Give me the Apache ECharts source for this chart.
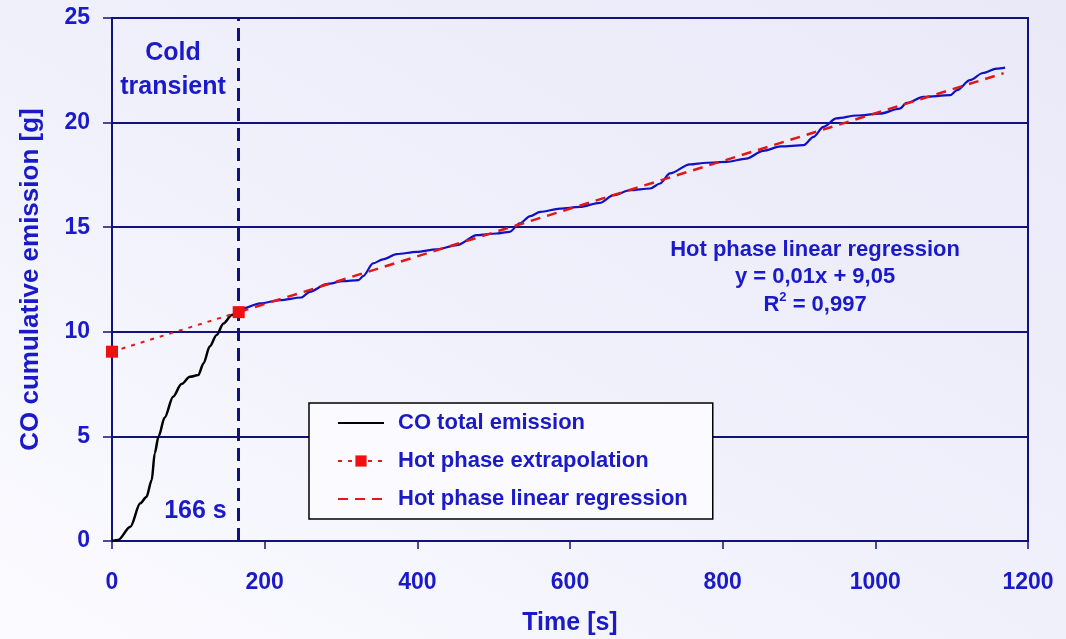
<!DOCTYPE html>
<html>
<head>
<meta charset="utf-8">
<script src="https://cdn.jsdelivr.net/npm/echarts@6/dist/echarts.min.js"></script>
<style>
  html, body { margin: 0; padding: 0; }
  body { width: 1066px; height: 639px; background: linear-gradient(30deg, #fbfbff 0%, #f1f1fc 45%, #e9e9f8 100%); }
  #chart { width: 1066px; height: 639px; }
</style>
</head>
<body>
<div id="chart"></div>
<script>
// Cumulative CO emission during the cold transient (time in s, mass in g)
const coldTime = [0, 8, 24, 37, 45, 52, 56, 61, 69, 80, 91, 102, 113, 120, 128, 137, 146, 157, 166];
const coldCO   = [0, 0.05, 0.68, 1.8, 2.1, 2.9, 4.2, 5.0, 5.9, 6.9, 7.5, 7.85, 7.93, 8.5, 9.3, 9.85, 10.4, 10.8, 10.94];

// Cumulative CO emission during the hot phase
const hotTime = [166, 172, 194, 220, 248, 259, 281, 303, 323, 329, 342, 355, 373, 399, 425, 452, 478, 504, 521, 534,
                 548, 561, 587, 613, 639, 657, 679, 705, 718, 731, 757, 779, 805, 831, 853, 876, 906, 919, 932, 949,
                 976, 1006, 1032, 1041, 1063, 1098, 1107, 1124, 1141, 1159, 1170];
const hotCO   = [10.94, 11.12, 11.36, 11.51, 11.64, 11.91, 12.28, 12.42, 12.47, 12.66, 13.27, 13.46, 13.71, 13.82, 13.94, 14.14, 14.62, 14.70, 14.78, 15.18,
                 15.53, 15.73, 15.89, 15.97, 16.16, 16.53, 16.77, 16.85, 17.09, 17.57, 18.0, 18.08, 18.12, 18.28, 18.65, 18.86, 18.92, 19.32, 19.80, 20.2,
                 20.34, 20.43, 20.67, 20.94, 21.23, 21.31, 21.55, 22.03, 22.37, 22.58, 22.63];

// Hot phase extrapolation back to t = 0 and the fitted regression line
const extrapTime = [0, 166];
const extrapCO   = [9.05, 10.94];
const regTime = [166, 1168];
const regCO   = [10.94, 22.36];

// Axis ticks and annotations
const xTicks = [0, 200, 400, 600, 800, 1000, 1200];
const yTicks = [0, 5, 10, 15, 20, 25];
const coldEnd = 166;
const legendNames = ['CO total emission', 'Hot phase extrapolation', 'Hot phase linear regression'];
const regressionText = ['Hot phase linear regression', 'y = 0,01x + 9,05', 'R{sup|2} = 0,997'];

const FONT = '"Liberation Sans", Arial, sans-serif';
const BLUE_TEXT = '#1a1ac8';
const NAVY = '#12127e';

const pairs = (xs, ys) => xs.map((x, i) => [x, ys[i]]);

const chart = echarts.init(document.getElementById('chart'), null, { renderer: 'canvas' });

const option = {
  backgroundColor: 'transparent',
  animation: false,
  grid: {
    left: 112, right: 38, top: 18, bottom: 98,
    outerBoundsMode: 'none',
    show: true, borderColor: NAVY, borderWidth: 2, backgroundColor: 'transparent'
  },
  xAxis: {
    type: 'value',
    min: xTicks[0], max: xTicks[xTicks.length - 1], interval: xTicks[1] - xTicks[0],
    name: 'Time [s]', nameLocation: 'middle', nameGap: 70,
    nameTextStyle: { fontFamily: FONT, fontWeight: 'bold', fontSize: 25, color: BLUE_TEXT },
    axisLine: { show: true, lineStyle: { color: NAVY, width: 2 } },
    axisTick: { show: true, inside: false, length: 8, lineStyle: { color: NAVY, width: 1.5 } },
    axisLabel: {
      margin: 30, fontFamily: FONT, fontWeight: 'bold', fontSize: 23, color: BLUE_TEXT,
      formatter: v => String(v)
    },
    splitLine: { show: false }
  },
  yAxis: {
    type: 'value',
    min: yTicks[0], max: yTicks[yTicks.length - 1], interval: yTicks[1] - yTicks[0],
    name: 'CO cumulative emission [g]', nameLocation: 'middle', nameGap: 68,
    nameTextStyle: { fontFamily: FONT, fontWeight: 'bold', fontSize: 26, color: BLUE_TEXT },
    axisLine: { show: true, lineStyle: { color: NAVY, width: 2 } },
    axisTick: { show: true, inside: false, length: 9, lineStyle: { color: NAVY, width: 1.5 } },
    axisLabel: {
      margin: 22, fontFamily: FONT, fontWeight: 'bold', fontSize: 23, color: BLUE_TEXT,
      formatter: v => String(v)
    },
    splitLine: { show: true, lineStyle: { color: NAVY, width: 2 } }
  },
  legend: {
    orient: 'vertical',
    left: 309, top: 403,
    data: [
      { name: legendNames[0], itemStyle: { opacity: 0 } },
      { name: legendNames[1] },
      { name: legendNames[2], itemStyle: { opacity: 0 } }
    ],
    backgroundColor: '#fafaff',
    borderColor: '#000000', borderWidth: 1.5, borderRadius: 0,
    padding: [7, 25, 7, 28],
    itemWidth: 46, itemHeight: 14, itemGap: 12,
    selectedMode: false,
    textStyle: {
      fontFamily: FONT, fontWeight: 'bold', fontSize: 22, color: BLUE_TEXT,
      lineHeight: 26, padding: [0, 0, 0, 9]
    }
  },
  series: [
    {
      name: 'CO total emission',
      type: 'line',
      data: pairs(coldTime, coldCO),
      smooth: 0.3, smoothMonotone: 'x',
      symbol: 'none',
      lineStyle: { color: '#000000', width: 2.5 },
      itemStyle: { color: '#000000' },
      z: 3,
      markLine: {
        silent: true, symbol: 'none', animation: false,
        label: { show: false },
        lineStyle: { color: NAVY, width: 3, type: [13, 7] },
        data: [{ xAxis: coldEnd }]
      }
    },
    {
      name: 'hot phase emission',
      type: 'line',
      data: pairs(hotTime, hotCO),
      smooth: 0.3, smoothMonotone: 'x',
      symbol: 'none',
      lineStyle: { color: '#1010c4', width: 2.2 },
      z: 3
    },
    {
      name: 'Hot phase linear regression',
      type: 'line',
      data: pairs(regTime, regCO),
      symbol: 'none',
      lineStyle: { color: '#e01818', width: 2.5, type: [10, 7] },
      itemStyle: { color: '#e01818' },
      z: 4
    },
    {
      name: 'Hot phase extrapolation',
      type: 'line',
      data: pairs(extrapTime, extrapCO),
      symbol: 'rect', symbolSize: 12,
      lineStyle: { color: '#e01818', width: 2, type: [4, 6] },
      itemStyle: { color: '#f01010' },
      z: 5
    }
  ]
};

chart.setOption(option);

// Text annotations anchored to data coordinates
const px = (x, y) => chart.convertToPixel({ gridIndex: 0 }, [x, y]);
const coldLabel = px(80, 22.5);
const endLabel = px(coldEnd, 1.43);
const regLabel = px(921, 12.6);

chart.setOption({
  graphic: [
    {
      type: 'text', x: coldLabel[0], y: coldLabel[1], z: 10,
      style: {
        text: 'Cold\ntransient', fill: BLUE_TEXT, font: 'bold 25px ' + FONT,
        align: 'center', verticalAlign: 'middle', lineHeight: 34
      }
    },
    {
      type: 'text', x: endLabel[0] - 12, y: endLabel[1], z: 10,
      style: {
        text: '166 s', fill: BLUE_TEXT, font: 'bold 25px ' + FONT,
        align: 'right', verticalAlign: 'middle'
      }
    },
    {
      type: 'text', x: regLabel[0], y: regLabel[1], z: 10,
      style: {
        text: regressionText.join('\n'), fill: BLUE_TEXT, font: 'bold 22px ' + FONT,
        align: 'center', verticalAlign: 'middle', lineHeight: 27.5,
        rich: {
          sup: { fill: BLUE_TEXT, font: 'bold 13px ' + FONT, verticalAlign: 'top', lineHeight: 20 }
        }
      }
    }
  ]
});
</script>
</body>
</html>
